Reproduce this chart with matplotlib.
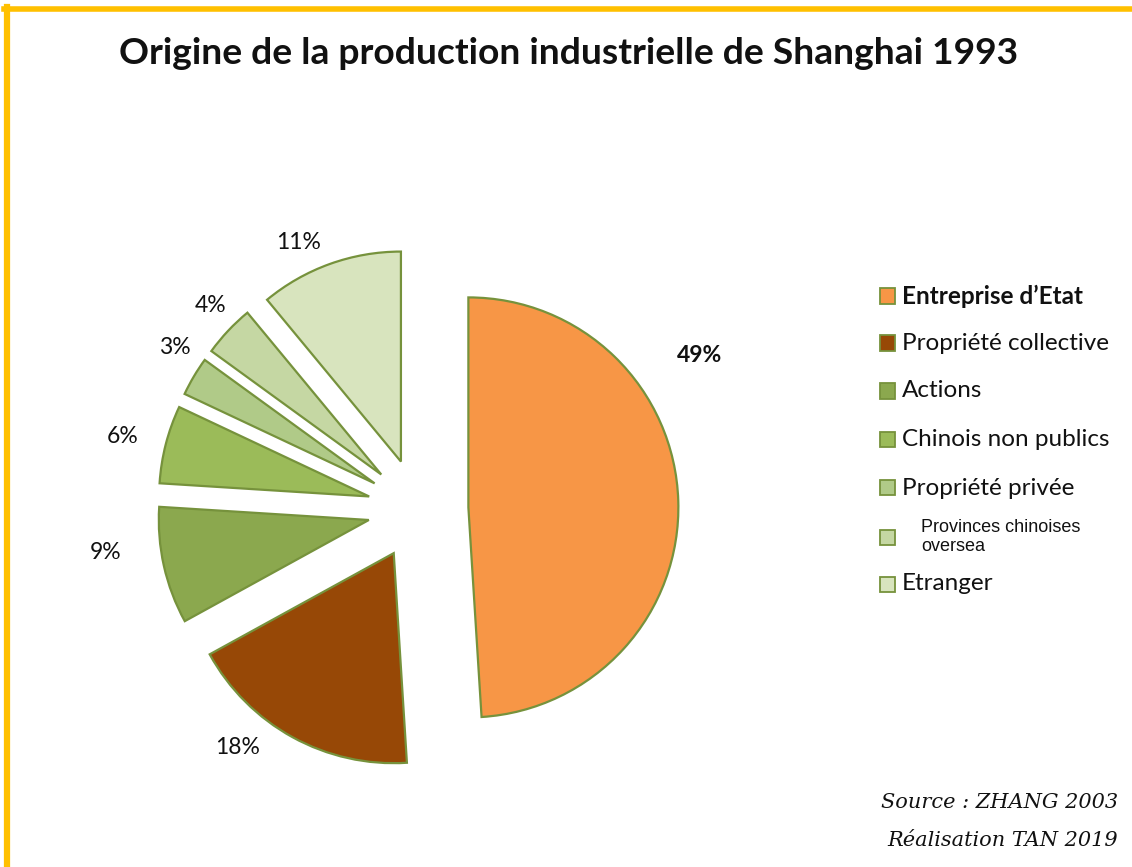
import matplotlib
matplotlib.use("Agg")
import matplotlib.pyplot as plt
from matplotlib.patches import Rectangle
from matplotlib.lines import Line2D

categories = ["Entreprise d\u2019Etat", "Propri\u00e9t\u00e9 collective", "Actions",
              "Chinois non publics", "Propri\u00e9t\u00e9 priv\u00e9e",
              "Provinces chinoises\noversea", "Etranger"]
values = [49, 18, 9, 6, 3, 4, 11]
pct_labels = ["49%", "18%", "9%", "6%", "3%", "4%", "11%"]
title = "Origine de la production industrielle de Shanghai 1993"
source_lines = ["Source : ZHANG 2003", "R\u00e9alisation TAN 2019"]

colors = ["#F79646", "#974806", "#8BA84E", "#9BBB59", "#B0CA88", "#C5D7A3", "#D8E4BE"]
edge = "#76923C"

W, H = 1132, 867
fig = plt.figure(figsize=(W / 100, H / 100), dpi=100)
fig.patch.set_facecolor("white")

# pie axes: center at pixel (418, 509), radius 210 px
cx, cy, R = 418, 509, 210
ax = fig.add_axes([0, 0, 1, 1])
wedges, _ = ax.pie(values, colors=colors, startangle=90, counterclock=False,
                   explode=[0.24] * len(values),
                   wedgeprops=dict(edgecolor=edge, linewidth=1.6))
ax.set_xlim(-cx / R, (W - cx) / R)
ax.set_ylim((cy - H) / R, cy / R)
ax.set_aspect("auto")
ax.axis("off")

label_pos = [(1.343, 0.733), (-0.857, -1.138), (-1.49, -0.205), (-1.405, 0.343),
             (-1.157, 0.767), (-0.99, 0.971), (-0.571, 1.267)]
for i, (txt, (lx, ly)) in enumerate(zip(pct_labels, label_pos)):
    ax.text(lx, ly, txt, ha="center", va="center", fontsize=16.5,
            family="Lato", fontweight="bold" if i == 0 else "normal", color="#111111")

# title
fig.text(569 / W, 1 - 54 / H, title, ha="center", va="center",
         fontsize=26.8, fontweight="bold", family="Lato", color="#111111")

# legend (manual)
rows_y = [296, 343, 391, 439, 488, 537, 584]
for i, (lab, col, yy) in enumerate(zip(categories, colors, rows_y)):
    fig.patches.append(Rectangle((880 / W, 1 - (yy + 7.5) / H), 15 / W, 15 / H,
                                 transform=fig.transFigure, facecolor=col,
                                 edgecolor=edge, linewidth=1.3))
    if i == 5:
        fig.text(921 / W, 1 - yy / H, lab, ha="left", va="center", fontsize=13,
                 family="Liberation Sans", color="#111111", linespacing=1.15)
    else:
        fig.text(902 / W, 1 - yy / H, lab, ha="left", va="center", fontsize=17.5,
                 family="Lato", fontweight="bold" if i == 0 else "normal",
                 color="#111111")

# source
for txt, yy in zip(source_lines, [803, 840]):
    fig.text(1118 / W, 1 - yy / H, txt, ha="right", va="center", fontsize=15,
             family="DejaVu Serif", style="italic", color="#111111")

# frame
gold = "#FFC000"
fig.lines.append(Line2D([4 / W, 1.0], [1 - 9 / H, 1 - 9 / H], transform=fig.transFigure,
                        color=gold, linewidth=4))
fig.lines.append(Line2D([7 / W, 7 / W], [1 - 7 / H, 0], transform=fig.transFigure,
                        color=gold, linewidth=4.5))

fig.savefig("out.png", dpi=100)
